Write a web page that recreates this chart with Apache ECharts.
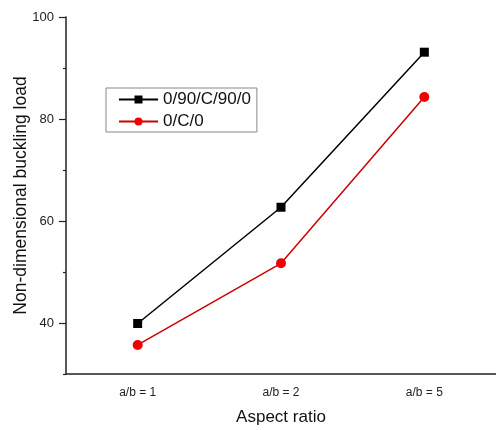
<!DOCTYPE html>
<html><head><meta charset="utf-8">
<script src="https://cdn.jsdelivr.net/npm/echarts@6/dist/echarts.min.js"></script>
<style>html,body{margin:0;padding:0;background:#fff}#c{width:496px;height:430px}</style>
</head><body><div id="c"></div>
<script>
const categories = ['a/b = 1', 'a/b = 2', 'a/b = 5'];
const seriesNames = ['0/90/C/90/0', '0/C/0'];
const series1 = [39.9, 62.7, 93.1];
const series2 = [35.7, 51.7, 84.3];
const yMajorTicks = [40, 60, 80, 100];
const yMinorTicks = [30, 50, 70, 90];

const chart = echarts.init(document.getElementById('c'));
const font = 'Liberation Sans, Arial, sans-serif';
chart.setOption({
  animation: false,
  grid: { left: 66, right: 0, top: 17, bottom: 56, containLabel: false, outerBoundsMode: 'none' },
  legend: {
    orient: 'vertical', left: 106, top: 88,
    borderColor: '#888', borderWidth: 1, padding: [3, 6, 2, 12],
    itemWidth: 39, itemHeight: 10, itemGap: 5,
    textStyle: { fontSize: 17, fontFamily: font, color: '#111' },
    data: seriesNames
  },
  xAxis: [{
    type: 'category', data: categories, boundaryGap: true,
    name: 'Aspect ratio', nameLocation: 'middle', nameGap: 35, nameMoveOverlap: false,
    nameTextStyle: { fontSize: 17, fontFamily: font, color: '#111' },
    axisLine: { lineStyle: { color: '#222', width: 1.5 } },
    axisTick: { alignWithLabel: true, length: 6, lineStyle: { color: '#222', width: 1.2 } },
    axisLabel: { fontSize: 12, fontFamily: font, color: '#222', margin: 13 }
  }, {
    type: 'category', data: categories, boundaryGap: true, position: 'bottom',
    axisLine: { show: false },
    axisTick: { length: 3, lineStyle: { color: '#222', width: 1.2 } },
    axisLabel: { show: false }
  }],
  yAxis: [{
    type: 'value', min: 30, max: 100, interval: 10,
    name: 'Non-dimensional buckling load', nameLocation: 'middle', nameGap: 36, nameMoveOverlap: false,
    nameTextStyle: { fontSize: 17.5, fontFamily: font, color: '#111' },
    axisLine: { show: true, lineStyle: { color: '#222', width: 1.5 } },
    axisTick: { show: true, length: 7, customValues: yMajorTicks, lineStyle: { color: '#222', width: 1.2 } },
    axisLabel: { fontSize: 13, fontFamily: font, color: '#222', margin: 12, customValues: yMajorTicks },
    splitLine: { show: false }
  }, {
    type: 'value', min: 30, max: 100, interval: 10, position: 'left',
    axisLine: { show: false },
    axisTick: { show: true, length: 3, customValues: yMinorTicks, lineStyle: { color: '#222', width: 1.2 } },
    axisLabel: { show: false },
    splitLine: { show: false }
  }],
  series: [{
    name: seriesNames[0], type: 'line', data: series1,
    symbol: 'rect', symbolSize: 9,
    lineStyle: { color: '#000', width: 1.5 },
    itemStyle: { color: '#000' }
  }, {
    name: seriesNames[1], type: 'line', data: series2,
    symbol: 'circle', symbolSize: 10,
    lineStyle: { color: '#cc0000', width: 1.5 },
    itemStyle: { color: '#f00000' }
  }]
});
</script></body></html>
